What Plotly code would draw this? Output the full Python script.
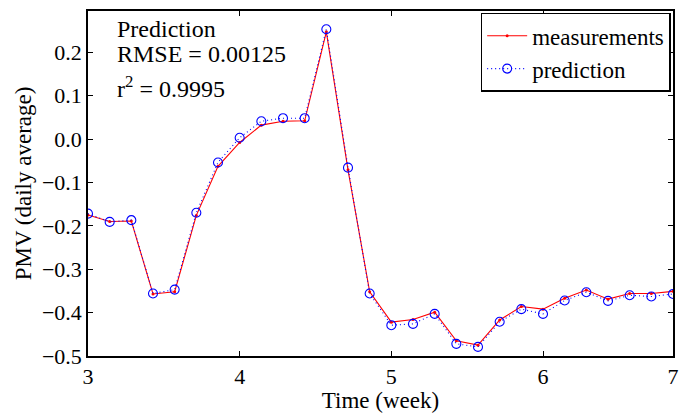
import plotly.graph_objects as go

# ---- data ----
days = list(range(28))
week_start = 3
x_time = [week_start + d / 7 for d in days]

measurements = [-0.175, -0.190, -0.189, -0.357, -0.352, -0.176, -0.063, -0.008,
                0.032, 0.041, 0.042, 0.247, -0.071, -0.352, -0.422, -0.416,
                -0.399, -0.465, -0.475, -0.417, -0.386, -0.392, -0.367, -0.348,
                -0.369, -0.356, -0.356, -0.351]
prediction = [-0.172, -0.191, -0.187, -0.356, -0.347, -0.170, -0.054, 0.003,
              0.041, 0.048, 0.048, 0.253, -0.066, -0.356, -0.429, -0.426,
              -0.403, -0.472, -0.479, -0.421, -0.392, -0.403, -0.372, -0.353,
              -0.373, -0.360, -0.363, -0.357]

x_tick_vals = [3, 4, 5, 6, x_time[-1]]
x_tick_text = ["3", "4", "5", "6", "7"]
y_tick_vals = [-0.5, -0.4, -0.3, -0.2, -0.1, 0, 0.1, 0.2]
y_range = [-0.5, 0.295]

info_lines = ["Prediction", "RMSE = 0.00125", "r<sup>2</sup> = 0.9995"]

FONT = "Liberation Serif"

fig = go.Figure()
fig.add_trace(go.Scatter(
    x=x_time, y=measurements, name="measurements", mode="lines+markers",
    line=dict(color="#ff0000", width=1.1),
    marker=dict(color="#ff0000", size=3, symbol="circle"),
))
fig.add_trace(go.Scatter(
    x=x_time, y=prediction, name="prediction", mode="lines+markers",
    line=dict(color="#0000ff", width=1.1, dash="1px,3px"),
    marker=dict(color="#0000ff", size=9, symbol="circle-open",
                line=dict(color="#0000ff", width=1.1)),
))

axis_common = dict(
    showgrid=False, zeroline=False, showline=True, linecolor="black",
    linewidth=1.5, mirror="ticks", ticks="inside", ticklen=5, tickwidth=1,
    tickcolor="black", tickfont=dict(family=FONT, size=22, color="black"),
)

fig.update_xaxes(range=[x_time[0], x_time[-1]], tickmode="array",
                 tickvals=x_tick_vals, ticktext=x_tick_text,
                 title=dict(text="Time (week)", font=dict(family=FONT, size=23, color="black"),
                            standoff=2),
                 **axis_common)
fig.update_yaxes(range=y_range, tickmode="array", tickvals=y_tick_vals,
                 tickformat=".1f",
                 title=dict(text="PMV (daily average)", font=dict(family=FONT, size=23, color="black"),
                            standoff=4),
                 **axis_common)

ys = [0.948, 0.875, 0.78]
for t, yy in zip(info_lines, ys):
    fig.add_annotation(text=t, xref="paper", yref="paper", x=0.0457, y=yy,
                       xanchor="left", yanchor="middle", showarrow=False,
                       font=dict(family=FONT, size=24, color="black"))

fig.update_layout(
    width=683, height=413,
    margin=dict(l=88, r=4, t=11, b=57),
    paper_bgcolor="white", plot_bgcolor="white",
    font=dict(family=FONT, color="black"),
    showlegend=True,
    legend=dict(x=0.996, y=0.995, xanchor="right", yanchor="top",
                bgcolor="white", bordercolor="black", borderwidth=1.5,
                font=dict(family=FONT, size=23, color="black"),
                tracegroupgap=0, itemwidth=40),
)

fig.write_html("out.html")
